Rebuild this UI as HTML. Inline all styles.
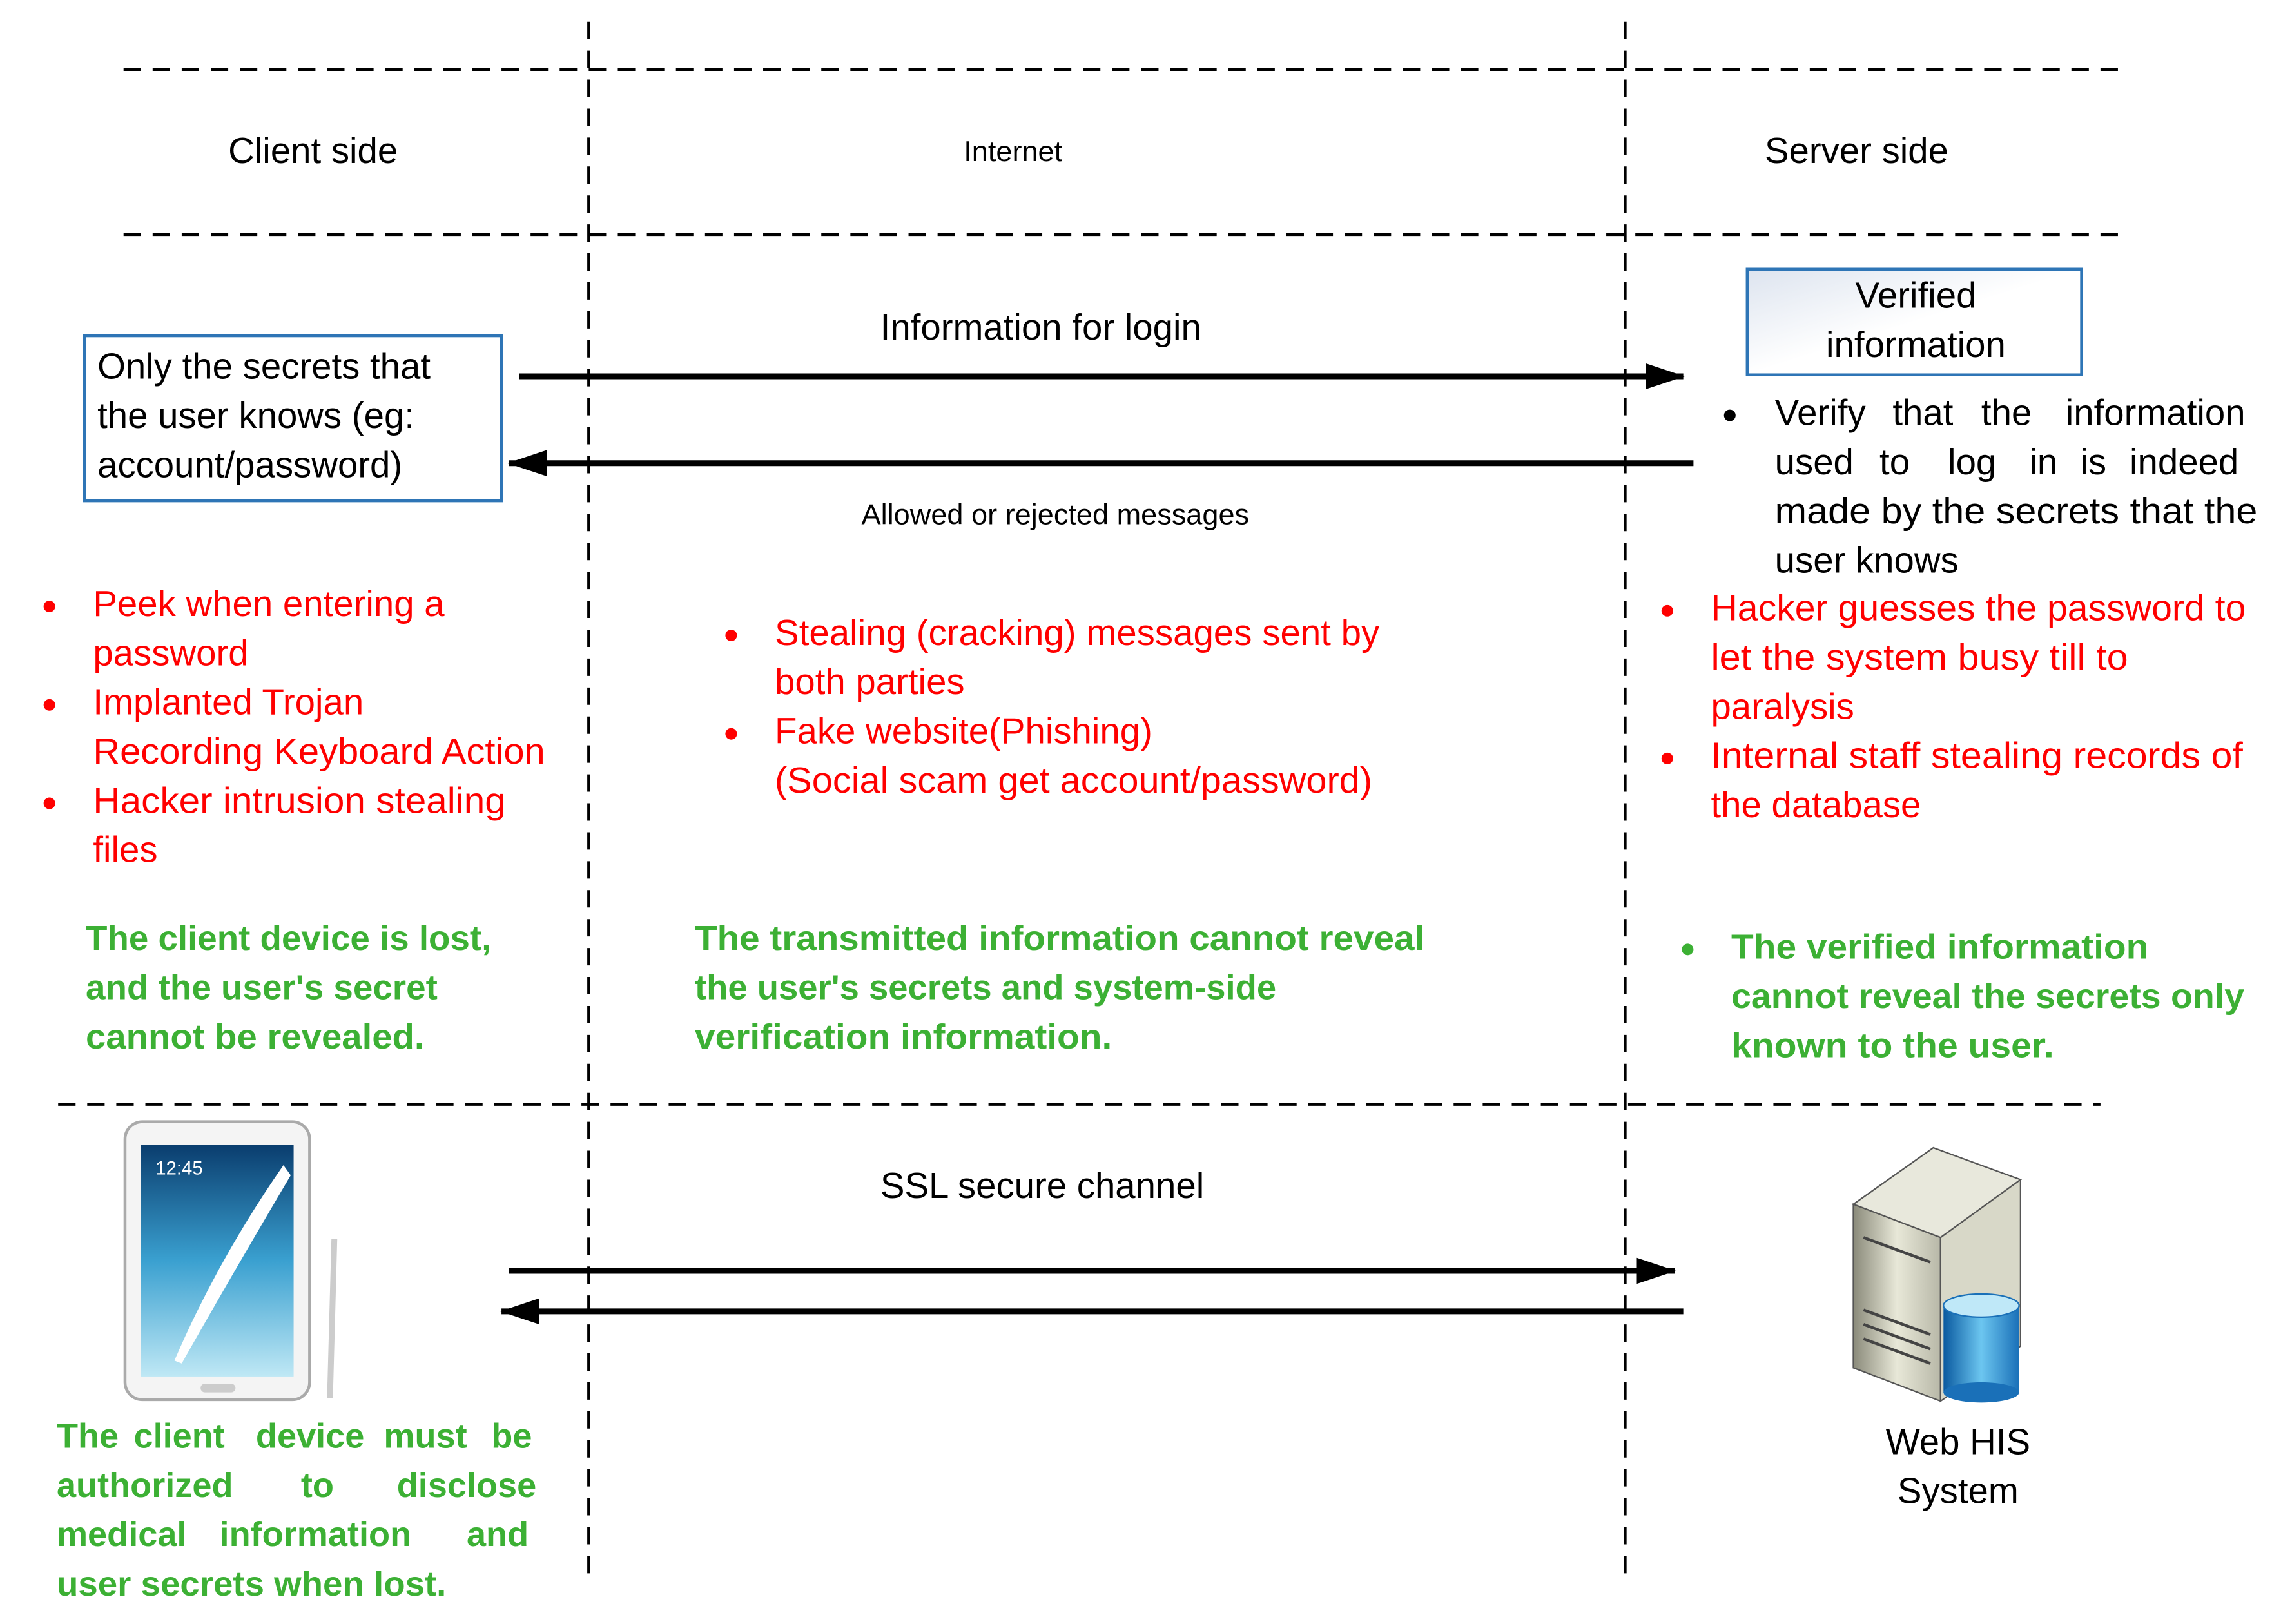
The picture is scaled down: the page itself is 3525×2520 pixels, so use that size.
<!DOCTYPE html>
<html><head><meta charset="utf-8"><style>html,body{margin:0;padding:0;background:#fff}svg{display:block}</style></head>
<body>
<svg xmlns="http://www.w3.org/2000/svg" width="3525" height="2520" viewBox="0 0 1563 1122" preserveAspectRatio="none" font-family="Liberation Sans, sans-serif">
<defs>
<marker id="ah" markerWidth="28" markerHeight="20" refX="26" refY="10" orient="auto" markerUnits="userSpaceOnUse"><path d="M0,1 L27,10 L0,19 z" fill="#000"/></marker>
<linearGradient id="vg" x1="0" y1="0" x2="1" y2="1"><stop offset="0" stop-color="#dde4ef"/><stop offset="0.5" stop-color="#fff"/></linearGradient>
<linearGradient id="scr" x1="0" y1="0" x2="0" y2="1"><stop offset="0" stop-color="#0a3d6e"/><stop offset="0.5" stop-color="#3aa0d0"/><stop offset="1" stop-color="#bfe8f5"/></linearGradient>
<linearGradient id="srv" x1="0" y1="0" x2="1" y2="0"><stop offset="0" stop-color="#8a8a7a"/><stop offset="0.5" stop-color="#e8e8d8"/><stop offset="1" stop-color="#b8b8a8"/></linearGradient>
<linearGradient id="cyl" x1="0" y1="0" x2="1" y2="0"><stop offset="0" stop-color="#0a5aa0"/><stop offset="0.5" stop-color="#6cc6f0"/><stop offset="1" stop-color="#1a70b8"/></linearGradient>
</defs>
<g stroke="#000" stroke-width="2" stroke-dasharray="12,8" fill="none">
<line x1="85" y1="48" x2="1460" y2="48"/>
<line x1="85" y1="162" x2="1460" y2="162"/>
<line x1="40" y1="763" x2="1445" y2="763"/>
<line x1="405" y1="15" x2="405" y2="1092"/>
<line x1="1118" y1="15" x2="1118" y2="1095"/>
</g>
<g font-size="25" dominant-baseline="middle">
<text x="157" y="106">Client side</text>
<text x="663" y="106" font-size="20">Internet</text>
<text x="1214" y="106">Server side</text>
</g>
<rect x="58" y="232" width="287" height="114" fill="#fff" stroke="#2e75b6" stroke-width="2"/>
<g font-size="25" dominant-baseline="middle">
<text x="67" y="255">Only the secrets that</text>
<text x="67" y="289">the user knows (eg:</text>
<text x="67" y="323">account/password)</text>
</g>
<rect x="1202" y="186" width="230" height="73" fill="url(#vg)" stroke="#2e75b6" stroke-width="2"/>
<g font-size="25" dominant-baseline="middle" text-anchor="middle">
<text x="1318" y="206">Verified</text>
<text x="1318" y="240">information</text>
<text x="716" y="228">Information for login</text>
<text x="726" y="357" font-size="20">Allowed or rejected messages</text>
<text x="717" y="821">SSL secure channel</text>
<text x="1347" y="998">Web HIS</text>
<text x="1347" y="1032">System</text>
</g>
<g stroke="#000" stroke-width="4" marker-end="url(#ah)">
<line x1="357" y1="260" x2="1158" y2="260"/>
<line x1="1165" y1="320" x2="350" y2="320"/>
<line x1="350" y1="878" x2="1152" y2="878"/>
<line x1="1158" y1="906" x2="345" y2="906"/>
</g>
<g font-size="25" dominant-baseline="middle">
<circle cx="1190" cy="287" r="4"/>
<text y="287"><tspan x="1221">Verify</tspan><tspan x="1302">that</tspan><tspan x="1363">the</tspan><tspan x="1421">information</tspan></text>
<text y="321"><tspan x="1221">used</tspan><tspan x="1293">to</tspan><tspan x="1340">log</tspan><tspan x="1396">in</tspan><tspan x="1431">is</tspan><tspan x="1465">indeed</tspan></text>
<text x="1221" y="355" textLength="332" lengthAdjust="spacingAndGlyphs">made by the secrets that the</text>
<text x="1221" y="389">user knows</text>
</g>
<g font-size="25" dominant-baseline="middle" fill="#ff0000">
<circle cx="34" cy="419" r="4"/><circle cx="34" cy="487" r="4"/><circle cx="34" cy="555" r="4"/>
<text x="64" y="419">Peek when entering a</text>
<text x="64" y="453">password</text>
<text x="64" y="487">Implanted Trojan</text>
<text x="64" y="521" textLength="311" lengthAdjust="spacingAndGlyphs">Recording Keyboard Action</text>
<text x="64" y="555" textLength="284" lengthAdjust="spacingAndGlyphs">Hacker intrusion stealing</text>
<text x="64" y="589">files</text>
<circle cx="503" cy="439" r="4"/><circle cx="503" cy="507" r="4"/>
<text x="533" y="439" textLength="416" lengthAdjust="spacingAndGlyphs">Stealing (cracking) messages sent by</text>
<text x="533" y="473">both parties</text>
<text x="533" y="507">Fake website(Phishing)</text>
<text x="533" y="541" textLength="411" lengthAdjust="spacingAndGlyphs">(Social scam get account/password)</text>
<circle cx="1147" cy="422" r="4"/><circle cx="1147" cy="524" r="4"/>
<text x="1177" y="422" textLength="368" lengthAdjust="spacingAndGlyphs">Hacker guesses the password to</text>
<text x="1177" y="456" textLength="287" lengthAdjust="spacingAndGlyphs">let the system busy till to</text>
<text x="1177" y="490">paralysis</text>
<text x="1177" y="524" textLength="366" lengthAdjust="spacingAndGlyphs">Internal staff stealing records of</text>
<text x="1177" y="558">the database</text>
</g>
<g font-size="24" font-weight="bold" dominant-baseline="middle" fill="#3cb034">
<text x="59" y="650" textLength="279" lengthAdjust="spacingAndGlyphs">The client device is lost,</text>
<text x="59" y="684" textLength="242" lengthAdjust="spacingAndGlyphs">and the user's secret</text>
<text x="59" y="718" textLength="233" lengthAdjust="spacingAndGlyphs">cannot be revealed.</text>
<text x="478" y="650" textLength="502" lengthAdjust="spacingAndGlyphs">The transmitted information cannot reveal</text>
<text x="478" y="684" textLength="400" lengthAdjust="spacingAndGlyphs">the user's secrets and system-side</text>
<text x="478" y="718" textLength="287" lengthAdjust="spacingAndGlyphs">verification information.</text>
<circle cx="1161" cy="656" r="4"/>
<text x="1191" y="656" textLength="287" lengthAdjust="spacingAndGlyphs">The verified information</text>
<text x="1191" y="690" textLength="353" lengthAdjust="spacingAndGlyphs">cannot reveal the secrets only</text>
<text x="1191" y="724" textLength="222" lengthAdjust="spacingAndGlyphs">known to the user.</text>
<text y="994"><tspan x="39">The</tspan><tspan x="92">client</tspan><tspan x="176">device</tspan><tspan x="264">must</tspan><tspan x="338">be</tspan></text>
<text y="1028"><tspan x="39">authorized</tspan><tspan x="207">to</tspan><tspan x="273">disclose</tspan></text>
<text y="1062"><tspan x="39">medical</tspan><tspan x="151">information</tspan><tspan x="321">and</tspan></text>
<text x="39" y="1096" textLength="268" lengthAdjust="spacingAndGlyphs">user secrets when lost.</text>
</g>
<!-- tablet -->
<rect x="86" y="775" width="127" height="192" rx="12" fill="#f4f4f4" stroke="#aaa" stroke-width="2"/>
<rect x="97" y="791" width="105" height="160" fill="url(#scr)"/>
<path d="M120,940 Q150,870 195,805 L200,812 Q160,880 125,942 z" fill="#fff"/>
<text x="107" y="808" font-size="13" fill="#fff" dominant-baseline="middle">12:45</text>
<rect x="138" y="956" width="24" height="6" rx="3" fill="#ccc"/>
<line x1="230" y1="856" x2="227" y2="966" stroke="#ccc" stroke-width="4"/>
<!-- server -->
<path d="M1275,832 L1330,793 L1390,815 L1335,855 z" fill="#e8e8dc" stroke="#555"/>
<path d="M1275,832 L1335,855 L1335,968 L1275,945 z" fill="url(#srv)" stroke="#555"/>
<path d="M1335,855 L1390,815 L1390,930 L1335,968 z" fill="#d8d8c8" stroke="#555"/>
<g stroke="#444" stroke-width="2"><line x1="1282" y1="855" x2="1328" y2="872"/><line x1="1282" y1="905" x2="1328" y2="922"/><line x1="1282" y1="915" x2="1328" y2="932"/><line x1="1282" y1="925" x2="1328" y2="942"/></g>
<rect x="1337" y="902" width="52" height="60" fill="url(#cyl)"/>
<ellipse cx="1363" cy="962" rx="26" ry="7" fill="#1a70b8"/>
<ellipse cx="1363" cy="902" rx="26" ry="8" fill="#bfe8f8" stroke="#1a70b8"/>
</svg>
</body></html>
